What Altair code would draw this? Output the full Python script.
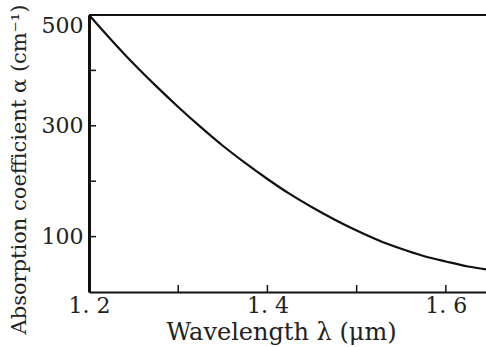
import altair as alt
import pandas as pd

# Curve
wavelength = [1.200, 1.225, 1.250, 1.275, 1.300, 1.325, 1.350, 1.375, 1.400, 1.425,
              1.450, 1.475, 1.500, 1.525, 1.550, 1.575, 1.600, 1.625, 1.645]
alpha = [500, 455, 412, 372, 334, 298, 264, 233, 204, 177,
         153, 131, 111, 93, 78, 65, 55, 46, 41]

x_ticks = [1.3, 1.4, 1.5, 1.6]
x_labels = [1.2, 1.4, 1.6]
y_ticks = [100, 200, 300, 400]
y_labels = [100, 300, 500]

W, H = 397, 277
FONT = "DejaVu Serif"

curve_df = pd.DataFrame({"wl": wavelength, "a": alpha})
xt_df = pd.DataFrame({"v": x_ticks})
yt_df = pd.DataFrame({"v": y_ticks})

xscale = alt.Scale(domain=[1.2, 1.645], nice=False, zero=False)
yscale = alt.Scale(domain=[0, 500], nice=False)

x_axis = alt.Axis(
    values=x_labels,
    labelExpr="replace(format(datum.value, '.1f'), '.', '. ')",
    ticks=False, tickSize=0, grid=False,
    domainColor="#111", domainWidth=2,
    labelFont=FONT, labelFontSize=22, labelColor="#222", labelPadding=3,
    labelFlush=False,
    title="Wavelength λ (μm)", titleFont=FONT, titleFontSize=24,
    titleFontWeight="normal", titleColor="#222",
    titleX=192, titleY=40, titleBaseline="middle",
)
y_axis = alt.Axis(
    values=y_labels,
    ticks=False, tickSize=0, grid=False,
    domainColor="#111", domainWidth=3,
    labelFont=FONT, labelFontSize=22, labelColor="#222", labelPadding=6,
    labelFlush=True,
    title="Absorption coefficient α (cm⁻¹)", titleFont=FONT, titleFontSize=21,
    titleFontWeight="normal", titleColor="#222",
    titleX=-70, titleY=154, titleBaseline="middle", titleAlign="center", titleAngle=270,
)

curve = alt.Chart(curve_df).mark_line(color="#111", strokeWidth=2.2, interpolate="monotone").encode(
    x=alt.X("wl:Q", scale=xscale, axis=x_axis),
    y=alt.Y("a:Q", scale=yscale, axis=y_axis),
)

xt = alt.Chart(xt_df).mark_rule(color="#111", strokeWidth=1.5).encode(
    x=alt.X("v:Q", scale=xscale),
    y=alt.value(H), y2=alt.value(H - 7),
)
yt = alt.Chart(yt_df).mark_rule(color="#111", strokeWidth=1.5).encode(
    y=alt.Y("v:Q", scale=yscale),
    x=alt.value(0), x2=alt.value(7),
)
top = alt.Chart(xt_df).mark_rule(color="#111", strokeWidth=2).encode(
    x=alt.value(0), x2=alt.value(W), y=alt.value(0),
)

chart = alt.layer(curve, xt, yt, top).properties(
    width=W, height=H,
    autosize=alt.AutoSizeParams(type="none"),
    padding={"left": 89, "top": 15, "right": 0, "bottom": 55},
    background="white",
).configure_view(stroke=None)

chart.save("out.html", embed_options={"renderer": "svg", "actions": False})
